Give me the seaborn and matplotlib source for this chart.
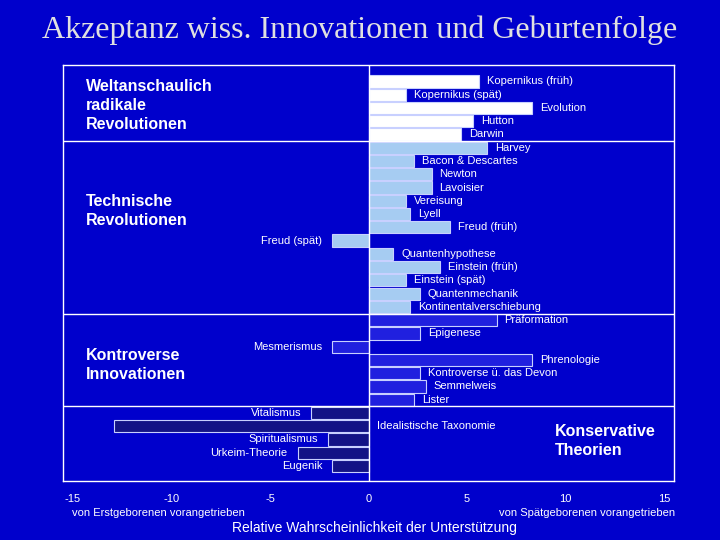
import matplotlib
matplotlib.use("Agg")
import matplotlib.pyplot as plt
import seaborn as sns
import pandas as pd

# Data
theories = [
    "Kopernikus (früh)", "Kopernikus (spät)", "Evolution", "Hutton", "Darwin",
    "Harvey", "Bacon & Descartes", "Newton", "Lavoisier", "Vereisung", "Lyell",
    "Freud (früh)", "Freud (spät)", "Quantenhypothese", "Einstein (früh)",
    "Einstein (spät)", "Quantenmechanik", "Kontinentalverschiebung",
    "Präformation", "Epigenese", "Mesmerismus", "Phrenologie",
    "Kontroverse ü. das Devon", "Semmelweis", "Lister",
    "Vitalismus", "Idealistische Taxonomie", "Spiritualismus", "Urkeim-Theorie", "Eugenik",
]
values = [
    5.6, 1.9, 8.3, 5.3, 4.7,
    6.0, 2.3, 3.2, 3.2, 1.9, 2.1,
    4.15, -1.85, 1.25, 3.65,
    1.9, 2.6, 2.1,
    6.5, 2.6, -1.85, 8.3,
    2.6, 2.9, 2.3,
    -2.9, -12.9, -2.05, -3.6, -1.85,
]
groups = (["weltanschaulich"] * 5 + ["technisch"] * 13
          + ["kontrovers"] * 7 + ["konservativ"] * 5)
group_labels = ["Weltanschaulich\nradikale\nRevolutionen", "Technische\nRevolutionen",
                "Kontroverse\nInnovationen", "Konservative\nTheorien"]
x_ticks = [-15, -10, -5, 0, 5, 10, 15]

BG = "#0000CC"
palette = {"weltanschaulich": "#FFFFFF", "technisch": "#99CCFF",
           "kontrovers": "#0000FF", "konservativ": "#000099"}

df = pd.DataFrame({"theory": theories, "value": values, "group": groups})

sns.set_style("white")
plt.rcParams["font.family"] = ["Liberation Sans", "DejaVu Sans"]

fig = plt.figure(figsize=(7.2, 5.4), dpi=100, facecolor=BG)
ax = fig.add_axes([63 / 720, 1 - 481 / 540, 611 / 720, 416 / 540])
ax.set_facecolor(BG)

sns.barplot(data=df, x="value", y="theory", hue="group", palette=palette,
            dodge=False, orient="h", width=0.92, edgecolor="#C8D0FF",
            linewidth=0.8, legend=False, ax=ax)

ax.set_xlim(-15.5, 15.5)
ax.set_ylim(30.13, -1.24)
ax.set_xticks(x_ticks)
ax.set_xticklabels([str(t) for t in x_ticks])
ax.set_yticks([])
ax.set_xlabel("")
ax.set_ylabel("")
ax.tick_params(axis="x", length=0, colors="white", labelsize=8, pad=9)
for s in ax.spines.values():
    s.set_color("white")
    s.set_linewidth(1)

# dividers
ax.axvline(0, color="white", lw=1)
for yy in [4.5, 17.5, 24.5]:
    ax.axhline(yy, color="white", lw=1)

# bar labels
for i, (name, v) in enumerate(zip(theories, values)):
    if v > 0:
        ax.text(v + 0.4, i, name, ha="left", va="center", color="white", fontsize=8)
    elif v < -10:
        ax.text(0.45, i, name, ha="left", va="center", color="white", fontsize=8)
    else:
        ax.text(v - 0.5, i, name, ha="right", va="center", color="white", fontsize=8)

# group captions
bold = dict(color="white", fontsize=11.5, fontweight="bold", va="top", linespacing=1.34)
fig.text(86 / 720, 1 - 79 / 540, group_labels[0], ha="left", **bold)
fig.text(86 / 720, 1 - 194 / 540, group_labels[1], ha="left", **bold)
fig.text(86 / 720, 1 - 348 / 540, group_labels[2], ha="left", **bold)
fig.text(555 / 720, 1 - 424 / 540, group_labels[3], ha="left", **bold)

fig.text(360 / 720, 1 - 30 / 540, "Akzeptanz wiss. Innovationen und Geburtenfolge",
         ha="center", va="center", color="#E0E0E0", fontsize=23,
         family=["Liberation Serif", "DejaVu Serif"])
fig.text(72 / 720, 1 - 513 / 540, "von Erstgeborenen vorangetrieben",
         ha="left", va="center", color="white", fontsize=8)
fig.text(675 / 720, 1 - 513 / 540, "von Spätgeborenen vorangetrieben",
         ha="right", va="center", color="white", fontsize=8)
fig.text(374 / 720, 1 - 528 / 540, "Relative Wahrscheinlichkeit der Unterstützung",
         ha="center", va="center", color="white", fontsize=10)

fig.savefig("out.png", dpi=100, facecolor=BG)
